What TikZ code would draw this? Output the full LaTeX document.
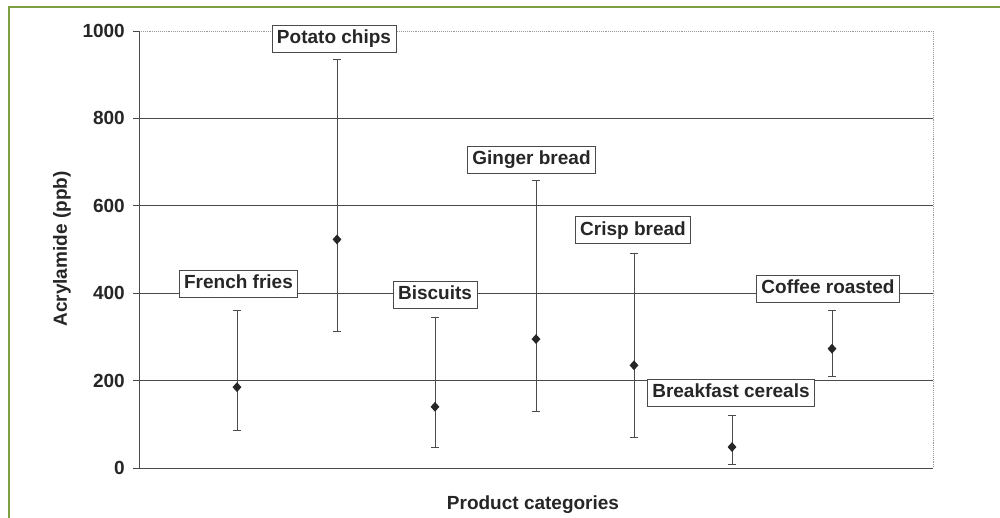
\documentclass[tikz,border=0pt]{standalone}
\usepackage{fontspec}
\setmainfont{Liberation Sans}
\usetikzlibrary{shapes.geometric}
\definecolor{frame}{HTML}{7E9E45}
\definecolor{linegray}{HTML}{4A4A4A}
\definecolor{lightgray}{HTML}{9A9A9A}
\definecolor{txt}{HTML}{262626}
\newcommand{\ebar}[4]{%
  \draw[bar] ({#1},{468-0.437*#2}) -- ({#1},{468-0.437*#4});
  \draw[bar] ({#1-4},{468-0.437*#2}) -- ({#1+4},{468-0.437*#2});
  \draw[bar] ({#1-4},{468-0.437*#4}) -- ({#1+4},{468-0.437*#4});
  \node[dmd] at ({#1},{468-0.437*#3}) {};}
\begin{document}
\begin{tikzpicture}[x=1pt,y=-1pt,
  grid/.style={draw=linegray, line width=0.9pt},
  dotline/.style={draw=lightgray, line width=0.9pt, densely dotted},
  axis/.style={draw=linegray, line width=1pt},
  bar/.style={draw=linegray, line width=0.9pt},
  dmd/.style={diamond, fill=txt, draw=none, inner sep=0pt, minimum width=9pt, minimum height=10pt},
  big/.style={font=\fontsize{19}{22}\selectfont\bfseries, text=txt},
  lbl/.style={big, draw=linegray, fill=white, line width=0.9pt, inner xsep=5pt, inner ysep=4.5pt, text height=14pt, text depth=4pt},
  tick/.style={big, anchor=east, inner sep=0pt}]
\useasboundingbox (0,0) rectangle (1000,518);
\fill[white] (0,0) rectangle (1000,518);
% green frame
\draw[frame, line width=2pt] (9,520) -- (9,7) -- (1002,7);
% grid lines
\foreach \v in {200,400,600,800} {
  \draw[grid] (133,{468-0.437*\v}) -- (933,{468-0.437*\v});
}
\draw[dotline] (139,31) -- (933,31) -- (933,468);
\draw[grid] (133,31) -- (139,31);
% axes
\draw[axis] (139,31) -- (139,468);
\draw[axis] (133,468) -- (933,468);
% tick labels
\node[tick] (t0) at (125,468) {0};
\node[tick] (t200) at (125,380.6) {200};
\node[tick] (t400) at (125,293.2) {400};
\node[tick] (t600) at (125,205.8) {600};
\node[tick] (t800) at (125,118.4) {800};
\node[tick] (t1000) at (125,31) {1000};
% axis titles
\node[big, rotate=90] (ytitle) at (62,249) {Acrylamide (ppb)};
\node[big] (xtitle) at (533,505) {Product categories};
% error bars
\ebar{237}{360}{185}{85}
\ebar{337}{936}{523}{312}
\ebar{435}{344}{140}{46}
\ebar{536}{659}{295}{130}
\ebar{634}{492}{235}{69}
\ebar{732}{120}{48}{9}
\ebar{832}{360}{273}{210}
% labels
\node[lbl] (ff) at (238.5,283.7) {French fries};
\node[lbl] (pc) at (334,38.5) {Potato chips};
\node[lbl] (bi) at (435,295) {Biscuits};
\node[lbl] (gb) at (531.5,159.5) {Ginger bread};
\node[lbl] (cb) at (633,230.3) {Crisp bread};
\node[lbl] (bc) at (731,392.7) {Breakfast cereals};
\node[lbl] (cr) at (828,289) {Coffee roasted};
\end{tikzpicture}
\end{document}
